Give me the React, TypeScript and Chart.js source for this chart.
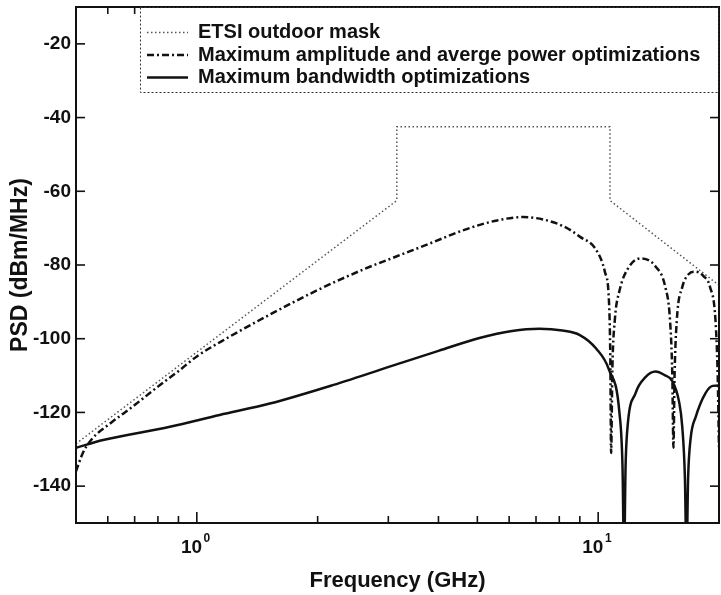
import React, { useEffect, useRef } from "react";
import { Chart, registerables } from "chart.js";

Chart.register(...registerables);

const FONT = "'Liberation Sans', Arial, Helvetica, sans-serif";

// ETSI outdoor mask
const maskFreq = [0.5, 3.15, 3.15, 10.7, 10.7, 20];
const maskPsd = [-128.5, -62.5, -42.5, -42.5, -62.5, -85.5];

// Maximum amplitude and average power optimizations
const ampFreq = [
  0.5, 0.52, 0.55, 0.6, 0.7, 0.8, 0.9, 1.0, 1.2, 1.5, 2.0, 2.6, 3.14, 3.8, 4.6, 5.6, 6.5, 7.4, 8.3, 9.0,
  9.9, 10.4, 10.64, 10.72, 10.77, 10.85, 11.0, 11.3, 11.95, 12.8, 13.9, 14.7, 15.1, 15.3, 15.4, 15.5, 15.7,
  16.2, 16.8, 17.4, 18.3, 19.0, 19.6, 19.85, 20,
];
const ampPsd = [
  -136, -131, -127, -123.5, -118, -113, -108.8, -104.8, -99.6, -93.8, -86.8, -81.2, -77.7, -74.2, -70.6, -67.9,
  -67, -67.8, -69.8, -72.3, -76, -82, -90, -105, -131, -108, -95, -87, -80.4, -78.2, -80.4, -86, -95, -110,
  -129.6, -110, -95, -86, -82.5, -81.8, -83, -86, -95, -110, -130,
];

// Maximum bandwidth optimizations
const bwFreq = [
  0.5, 0.584, 0.857, 1.14, 1.52, 2.18, 3.2, 4.0, 5.06, 6.1, 7.13, 8.15, 9.0, 9.87, 10.65, 11.3, 11.5, 11.6, 11.7,
  11.8, 12.4, 13.1, 13.9, 14.6, 15.3, 15.9, 16.2, 16.45, 16.6, 16.75, 17.0, 17.5, 18.5, 19.3, 20,
];
const bwPsd = [
  -129.6, -127.5, -123.9, -120.7, -117.6, -112.6, -106.7, -103.3, -99.8, -97.9, -97.3, -97.8, -99, -102.6,
  -108.5, -120.2, -135, -160, -135, -125.6, -114.7, -110.5, -108.9, -109.8, -111.5, -117, -123.9, -138, -160,
  -138, -127, -121.2, -114.8, -112.8, -112.7,
];

const legendLabels = [
  "ETSI outdoor mask",
  "Maximum amplitude and averge power optimizations",
  "Maximum bandwidth optimizations",
];

const yTickValues = [-140, -120, -100, -80, -60, -40, -20];
const xMajorTicks = [1, 10];
const xMajorExponents = ["0", "1"];
const xMinorTicks = [0.6, 0.7, 0.8, 0.9, 2, 3, 4, 5, 6, 7, 8, 9];

const xTitle = "Frequency (GHz)";
const yTitle = "PSD (dBm/MHz)";

const toPoints = (xs: number[], ys: number[]) => xs.map((x, i) => ({ x, y: ys[i] }));

const maskDash = [1.5, 2.5];
const ampDash = [7, 3, 2, 3];

export default function App() {
  const ref = useRef<HTMLCanvasElement>(null);

  useEffect(() => {
    const canvas = ref.current;
    if (!canvas) return;

    const framePlugin = {
      id: "framePlugin",
      afterDatasetsDraw(chart: any) {
        const { ctx, chartArea } = chart;
        const { left, right, top, bottom } = chartArea;
        const xs = chart.scales.x;
        const ys = chart.scales.y;
        const line = (x1: number, y1: number, x2: number, y2: number) => {
          ctx.beginPath();
          ctx.moveTo(x1, y1);
          ctx.lineTo(x2, y2);
          ctx.stroke();
        };
        ctx.save();
        ctx.strokeStyle = "#111";
        ctx.setLineDash([]);
        ctx.lineWidth = 2;
        ctx.strokeRect(left, top, right - left, bottom - top);

        ctx.lineWidth = 1.6;
        yTickValues.forEach((v) => {
          const py = ys.getPixelForValue(v);
          line(left, py, left + 9, py);
          line(right, py, right - 9, py);
        });
        xMajorTicks.forEach((v) => {
          const px = xs.getPixelForValue(v);
          line(px, bottom, px, bottom - 11);
          line(px, top, px, top + 11);
        });
        xMinorTicks.forEach((v) => {
          const px = xs.getPixelForValue(v);
          line(px, bottom, px, bottom - 7);
          line(px, top, px, top + 7);
        });

        // x tick labels 10^n
        ctx.fillStyle = "#111";
        ctx.textBaseline = "middle";
        ctx.textAlign = "left";
        xMajorTicks.forEach((v, i) => {
          const px = xs.getPixelForValue(v);
          ctx.font = `bold 19px ${FONT}`;
          const w1 = ctx.measureText("10").width;
          ctx.font = `bold 12px ${FONT}`;
          const w2 = ctx.measureText(xMajorExponents[i]).width;
          const x0 = px - (w1 + w2) / 2 - 2;
          ctx.font = `bold 19px ${FONT}`;
          ctx.fillText("10", x0, bottom + 25);
          ctx.font = `bold 12px ${FONT}`;
          ctx.fillText(xMajorExponents[i], x0 + w1 + 1.5, bottom + 16);
        });

        // legend box
        const bx = 140;
        const by = top;
        const bw = right - bx;
        const bh = 92 - top;
        ctx.fillStyle = "#fff";
        ctx.fillRect(bx, by + 1, bw - 1, bh - 1);
        ctx.strokeStyle = "#333";
        ctx.lineWidth = 1;
        ctx.setLineDash([2, 2]);
        ctx.strokeRect(bx + 0.5, by + 0.5, bw - 1, bh);
        const rows = [32.5, 55, 77.5];
        const styles = [
          { dash: maskDash, width: 1.5, color: "#555" },
          { dash: ampDash, width: 2.5, color: "#111" },
          { dash: [] as number[], width: 2.5, color: "#111" },
        ];
        rows.forEach((ry, i) => {
          ctx.strokeStyle = styles[i].color;
          ctx.lineWidth = styles[i].width;
          ctx.setLineDash(styles[i].dash);
          line(147, ry, 188, ry);
          ctx.setLineDash([]);
          ctx.fillStyle = "#111";
          ctx.font = `bold 20px ${FONT}`;
          ctx.textBaseline = "middle";
          ctx.textAlign = "left";
          ctx.fillText(legendLabels[i], 198, ry);
        });
        ctx.restore();
      },
    };

    const chart = new Chart(canvas, {
      type: "line",
      data: {
        datasets: [
          {
            label: legendLabels[0],
            data: toPoints(maskFreq, maskPsd),
            borderColor: "#555",
            borderWidth: 1.5,
            borderDash: maskDash,
            pointRadius: 0,
            tension: 0,
            fill: false,
          },
          {
            label: legendLabels[1],
            data: toPoints(ampFreq, ampPsd),
            borderColor: "#111",
            borderWidth: 2.5,
            borderDash: ampDash,
            pointRadius: 0,
            cubicInterpolationMode: "monotone",
            fill: false,
          },
          {
            label: legendLabels[2],
            data: toPoints(bwFreq, bwPsd),
            borderColor: "#111",
            borderWidth: 2.5,
            pointRadius: 0,
            cubicInterpolationMode: "monotone",
            fill: false,
          },
        ],
      },
      options: {
        animation: false,
        responsive: true,
        maintainAspectRatio: false,
        layout: { padding: { top: 7, right: 2, left: 0, bottom: 0 } },
        plugins: { legend: { display: false }, tooltip: { enabled: false } },
        scales: {
          x: {
            type: "logarithmic",
            min: 0.5,
            max: 20,
            grid: { display: false, drawTicks: false },
            border: { display: false },
            ticks: { display: false },
            title: {
              display: true,
              text: xTitle,
              color: "#111",
              font: { family: FONT, size: 22, weight: "bold" },
              padding: { top: 0, bottom: 1 },
            },
            afterFit: (scale: any) => {
              scale.height = 72;
              scale.paddingLeft = 0;
              scale.paddingRight = 0;
            },
          },
          y: {
            type: "linear",
            min: -150,
            max: -10,
            grid: { display: false, drawTicks: false },
            border: { display: false },
            afterBuildTicks: (scale: any) => {
              scale.ticks = yTickValues.map((v) => ({ value: v }));
            },
            ticks: {
              color: "#111",
              padding: 5,
              font: { family: FONT, size: 19, weight: "bold" },
              callback: (v: any) => String(v),
            },
            title: {
              display: true,
              text: yTitle,
              color: "#111",
              font: { family: FONT, size: 23, weight: "bold" },
              padding: { top: 7, bottom: 0 },
            },
            afterFit: (scale: any) => {
              scale.width = 76;
              scale.paddingTop = 0;
              scale.paddingBottom = 0;
            },
          },
        },
      },
      plugins: [framePlugin],
    } as any);

    return () => chart.destroy();
  }, []);

  return (
    <div style={{ position: "fixed", left: 0, top: 0, width: 721, height: 595, background: "#fff" }}>
      <canvas ref={ref} />
    </div>
  );
}
